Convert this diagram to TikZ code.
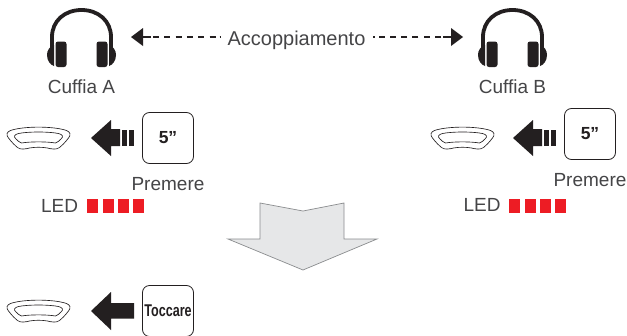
\documentclass[tikz,border=0pt]{standalone}
\usepackage{fontspec}
\setmainfont{Liberation Sans}
\definecolor{ink}{HTML}{231F20}
\definecolor{txt}{HTML}{454547}
\definecolor{ledred}{HTML}{ED1C24}
\definecolor{biggrey}{HTML}{E6E7E8}
\definecolor{bigedge}{HTML}{8A8C8E}
\tikzset{
  lbl/.style={font=\fontsize{19}{20}\selectfont,text=txt,inner sep=0pt},
  keybox/.style={draw=ink,line width=0.8pt,rounded corners=7pt,minimum width=51pt,minimum height=51pt,inner sep=0pt,font=\bfseries\fontsize{17.5}{18}\selectfont,text=ink},
  dashlink/.style={draw=ink,line width=1.9pt,dash pattern=on 8pt off 2pt on 6pt off 5.3pt on 6pt off 5.3pt on 6pt off 5.3pt on 6pt off 5.3pt on 6pt off 5.3pt on 6pt off 4pt on 1.5pt off 200pt},
  tip/.style={fill=ink,draw=none},
  devline/.style={draw=ink,line width=0.65pt,fill=white},
  pics/headset/.style={code={
    \draw[ink,line width=3.8pt] (-29.5,20) -- (-29.5,-2) .. controls (-29.5,-18) and (-17,-29) .. (0,-29) .. controls (17,-29) and (29.5,-18) .. (29.5,-2) -- (29.5,20);
    \fill[ink,rounded corners=2.5pt] (-26,2.5) rectangle (-15,28);
    \fill[ink,rounded corners=2.5pt] (15,2.5) rectangle (26,28);
    \fill[ink] (-27.5,6) .. controls (-32,8) and (-34.5,11) .. (-34.5,16) .. controls (-34.5,22) and (-31,26) .. (-27.5,27) -- cycle;
    \fill[ink] (27.5,6) .. controls (32,8) and (34.5,11) .. (34.5,16) .. controls (34.5,22) and (31,26) .. (27.5,27) -- cycle;
  }},
  pics/device/.style={code={
    \draw[devline] (-28,-7.5) .. controls (-15,-12) and (15,-12) .. (28,-7.5) .. controls (32,-6) and (32.5,-3) .. (30,0) .. controls (27,4) and (24,7) .. (21,9.5) .. controls (18,12) and (13,11) .. (9,10) .. controls (3,9) and (-3,9) .. (-9,10) .. controls (-13,11) and (-18,12) .. (-21,9.5) .. controls (-24,7) and (-27,4) .. (-30,0) .. controls (-32.5,-3) and (-32,-6) .. (-28,-7.5) -- cycle;
    \draw[devline] (-20,-4.5) .. controls (-10,-6.5) and (10,-6.5) .. (20,-4.5) .. controls (24,-3.5) and (25,-1.5) .. (23,0.5) .. controls (21,2.5) and (19,4.5) .. (17,5) .. controls (8,3.5) and (-8,3.5) .. (-17,5) .. controls (-19,4.5) and (-21,2.5) .. (-23,0.5) .. controls (-25,-1.5) and (-24,-3.5) .. (-20,-4.5) -- cycle;
  }},
  pics/arrowbars/.style={code={
    \fill[tip] (0,0) -- (20,-18) -- (20,-9) -- (29,-9) -- (29,8) -- (20,8) -- (20,18) -- cycle;
    \fill[tip] (30.5,-8) rectangle (36,8);
    \fill[tip] (37.5,-8) rectangle (43,8);
  }},
}
\begin{document}
\begin{tikzpicture}[x=1pt,y=-1pt]
\clip (0,0) rectangle (627,335);
\path[use as bounding box] (0,0) rectangle (627,335);
\fill[white] (0,0) rectangle (627,335);
% headsets
\pic at (81.5,39) {headset};
\pic at (512.5,39) {headset};
\node[lbl] (cuffiaA) at (81.5,87) {Cuffia A};
\node[lbl] (cuffiaB) at (512.5,87) {Cuffia B};
% pairing link
\node[lbl,font=\fontsize{20}{21}\selectfont] (acc) at (296.5,40) {Accoppiamento};
\coordinate (leftEnd) at (131,37);
\coordinate (rightEnd) at (463,37);
\coordinate (leftTail) at (143,37);
\coordinate (rightTail) at (451,37);
\coordinate (leftDot) at (acc.west |- leftTail);
\coordinate (rightDot) at (acc.east |- rightTail);
\draw[dashlink] (leftTail) -- ([xshift=-6pt]leftDot);
\draw[dashlink] (rightTail) -- ([xshift=6pt]rightDot);
\fill[tip] (leftEnd) -- (143,28) -- (143,46) -- cycle;
\fill[tip] (rightEnd) -- (451,28) -- (451,46) -- cycle;
% left column
\pic at (38.5,138) {device};
\pic at (91,138) {arrowbars};
\node[keybox] (keyA) at (168,138) {5”};
\node[lbl] (premA) at (168,184) {Premere};
\node[lbl] (ledA) at (59.5,206) {LED};
\foreach \x in {87,102.5,118,133}{\fill[ledred] (\x,199) rectangle ++(11,14);}
% right column
\pic at (462.5,138) {device};
\pic at (513,138) {arrowbars};
\node[keybox] (keyB) at (590,134) {5”};
\node[lbl] (premB) at (590,180) {Premere};
\node[lbl] (ledB) at (482,205) {LED};
\foreach \x in {509,524.5,540,555}{\fill[ledred] (\x,199) rectangle ++(11,14);}
% big arrow
\draw[bigedge,fill=biggrey,line width=0.7pt] (260,203) -- (303,211) -- (344,203) -- (344,239) -- (377,239) -- (303,270) -- (228,239) -- (260,239) -- cycle;
% bottom
\pic at (38.5,311) {device};
\fill[tip] (91,311) -- (111,292) -- (111,303) -- (134,303) -- (134,318.5) -- (111,318.5) -- (111,330) -- cycle;
\node[keybox,font=\bfseries\fontsize{17}{18}\selectfont] (keyC) at (168,311) {\addfontfeature{FakeStretch=0.74}Toccare};
\end{tikzpicture}
\end{document}
